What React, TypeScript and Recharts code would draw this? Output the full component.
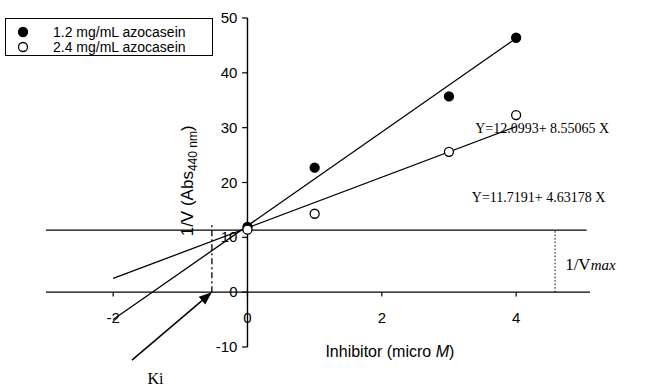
import React from 'react';
import { ScatterChart, Scatter, XAxis, YAxis, ReferenceLine, ReferenceDot, Legend } from 'recharts';

// inhibitor concentrations (micro M)
const doses = [0, 1, 3, 4];
// 1/V
const lowSubstrate = [11.9, 22.7, 35.7, 46.4]; // 1.2 mg/mL azocasein
const highSubstrate = [11.4, 14.3, 25.6, 32.3]; // 2.4 mg/mL azocasein

// ends of the two fitted lines
const fitX = [-2, 4];
const fitLow = [-5.0, 46.3];
const fitHigh = [2.5, 30.2];

const xTicks = [-2, 0, 2, 4];
const yTicks = [-10, 0, 10, 20, 30, 40, 50];

const vmaxLevel = 11.3;
const kiX = -0.53;
const vmaxX = 4.58;

const SANS = '"Liberation Sans", Arial, sans-serif';
const SERIF = '"Liberation Serif", "Times New Roman", serif';

const lowData = doses.map((x, i) => ({ x, y: lowSubstrate[i] }));
const highData = doses.map((x, i) => ({ x, y: highSubstrate[i] }));

const Marker = (props: any) => (
  <circle cx={props.cx} cy={props.cy} r={4.5} fill={props.open ? '#fff' : '#000'} stroke="#000" strokeWidth={1.3} />
);

// label helper: draws whatever render() returns at the dot's pixel position
const at = (render: (x: number, y: number) => React.ReactNode) => ({
  content: (p: any) => <g>{render(p.viewBox.x, p.viewBox.y)}</g>,
});

const LegendBox = () => (
  <div style={{ width: 206, height: 36, border: '1px solid #000', background: '#fff' }}>
    <svg width={206} height={36} style={{ display: 'block' }}>
      <circle cx={17} cy={13} r={4.5} fill="#000" stroke="#000" strokeWidth={1.3} />
      <text x={47} y={18} fontFamily={SANS} fontSize={14}>1.2 mg/mL azocasein</text>
      <circle cx={17} cy={28} r={4.5} fill="#fff" stroke="#000" strokeWidth={1.3} />
      <text x={47} y={33} fontFamily={SANS} fontSize={14}>2.4 mg/mL azocasein</text>
    </svg>
  </div>
);

const Arrow = (p: any) => {
  const { x1, y1, x2, y2 } = p;
  const a = Math.atan2(y2 - y1, x2 - x1);
  const len = 13;
  const w = 5;
  const bx = x2 - len * Math.cos(a);
  const by = y2 - len * Math.sin(a);
  const pts = `${x2},${y2} ${bx + w * Math.sin(a)},${by - w * Math.cos(a)} ${bx - w * Math.sin(a)},${by + w * Math.cos(a)}`;
  return (
    <g>
      <line x1={x1} y1={y1} x2={bx} y2={by} stroke="#000" strokeWidth={1.5} />
      <polygon points={pts} fill="#000" />
    </g>
  );
};

export default function App() {
  return (
    <div style={{ position: 'absolute', left: 0, top: 0, background: '#fff' }}>
      <ScatterChart width={648} height={387} margin={{ top: 18, right: 58, bottom: 40, left: 46 }}>
        <XAxis type="number" dataKey="x" domain={[-3, 5.1]} allowDataOverflow hide />
        <YAxis type="number" dataKey="y" domain={[-10, 50]} allowDataOverflow hide />

        {/* axes drawn through the origin */}
        <ReferenceLine segment={[{ x: -3, y: 0 }, { x: 5.1, y: 0 }]} stroke="#000" strokeWidth={1.4} />
        <ReferenceLine segment={[{ x: 0, y: -10 }, { x: 0, y: 50 }]} stroke="#000" strokeWidth={1.4} />
        {yTicks.map((t) => (
          <ReferenceLine key={'yt' + t} segment={[{ x: -0.08, y: t }, { x: 0, y: t }]} stroke="#000" strokeWidth={1.2} />
        ))}
        {xTicks.map((t) => (
          <ReferenceLine key={'xt' + t} segment={[{ x: t, y: 0 }, { x: t, y: -0.8 }]} stroke="#000" strokeWidth={1.2} />
        ))}
        {yTicks.map((t) => (
          <ReferenceDot key={'yl' + t} x={0} y={t} r={0} fill="none" stroke="none" ifOverflow="visible"
            label={at((x, y) => (
              <text x={x - 10} y={y + 5} textAnchor="end" fontFamily={SANS} fontSize={15} fill="#000">{t}</text>
            ))} />
        ))}
        {xTicks.map((t) => (
          <ReferenceDot key={'xl' + t} x={t} y={0} r={0} fill="none" stroke="none" ifOverflow="visible"
            label={at((x, y) => (
              <text x={x} y={y + 31} textAnchor="middle" fontFamily={SANS} fontSize={15} fill="#000">{t}</text>
            ))} />
        ))}

        {/* 1/Vmax level and guides */}
        <ReferenceLine segment={[{ x: -3, y: vmaxLevel }, { x: 5.05, y: vmaxLevel }]} stroke="#000" strokeWidth={1.3} />
        <ReferenceLine segment={[{ x: vmaxX, y: 0 }, { x: vmaxX, y: vmaxLevel }]} stroke="#000" strokeWidth={1} strokeDasharray="1.5 2" />
        <ReferenceLine segment={[{ x: kiX, y: 0 }, { x: kiX, y: 12.5 }]} stroke="#000" strokeWidth={1.3} strokeDasharray="6 3 2 3" />

        {/* fitted lines */}
        <ReferenceLine segment={[{ x: fitX[0], y: fitLow[0] }, { x: fitX[1], y: fitLow[1] }]} stroke="#000" strokeWidth={1.3} />
        <ReferenceLine segment={[{ x: fitX[0], y: fitHigh[0] }, { x: fitX[1], y: fitHigh[1] }]} stroke="#000" strokeWidth={1.3} />

        <Scatter name="1.2 mg/mL azocasein" data={lowData} isAnimationActive={false} shape={(p: any) => <Marker {...p} />} />
        <Scatter name="2.4 mg/mL azocasein" data={highData} isAnimationActive={false} shape={(p: any) => <Marker {...p} open />} />

        {/* Ki arrow */}
        <ReferenceLine segment={[{ x: -1.72, y: -12.4 }, { x: kiX, y: 0 }]} ifOverflow="visible" shape={(p: any) => <Arrow {...p} />} />
        <ReferenceDot x={-1.49} y={-16.8} r={0} fill="none" stroke="none" ifOverflow="visible"
          label={at((x, y) => (
            <text x={x} y={y} fontFamily={SERIF} fontSize={16} fill="#000">Ki</text>
          ))} />

        {/* annotations */}
        <ReferenceDot x={3.39} y={29.0} r={0} fill="none" stroke="none" ifOverflow="visible"
          label={at((x, y) => (
            <text x={x} y={y} fontFamily={SERIF} fontSize={14} fill="#000">Y=12.0993+ 8.55065 X</text>
          ))} />
        <ReferenceDot x={3.34} y={16.4} r={0} fill="none" stroke="none" ifOverflow="visible"
          label={at((x, y) => (
            <text x={x} y={y} fontFamily={SERIF} fontSize={14} fill="#000">Y=11.7191+ 4.63178 X</text>
          ))} />
        <ReferenceDot x={4.73} y={4.0} r={0} fill="none" stroke="none" ifOverflow="visible"
          label={at((x, y) => (
            <text x={x} y={y} fontFamily={SERIF} fontSize={17} fill="#000">
              1/V<tspan fontStyle="italic" fontSize={15}>max</tspan>
            </text>
          ))} />

        {/* axis titles */}
        <ReferenceDot x={-0.9} y={20.3} r={0} fill="none" stroke="none" ifOverflow="visible"
          label={at((x, y) => (
            <text transform={`rotate(-90 ${x} ${y})`} x={x} y={y + 6} textAnchor="middle" fontFamily={SANS} fontSize={17} fill="#000">
              1/V (Abs<tspan dy={4} fontSize={12}>440 nm</tspan><tspan dy={-4}>)</tspan>
            </text>
          ))} />
        <ReferenceDot x={2.12} y={-11.9} r={0} fill="none" stroke="none" ifOverflow="visible"
          label={at((x, y) => (
            <text x={x} y={y} textAnchor="middle" fontFamily={SANS} fontSize={16} fill="#000">
              Inhibitor (micro <tspan fontStyle="italic">M</tspan>)
            </text>
          ))} />

        {/* horizontal + middle + center keeps the legend from taking room from the plot */}
        <Legend layout="horizontal" verticalAlign="middle" align="center" content={() => <LegendBox />}
          wrapperStyle={{ left: 5, top: 18, width: 208, height: 38 }} />
      </ScatterChart>
    </div>
  );
}
